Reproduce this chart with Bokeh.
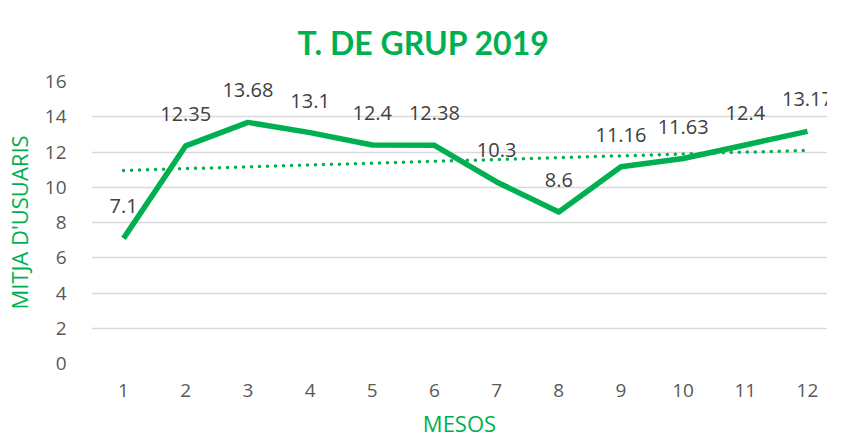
from bokeh.plotting import figure
from bokeh.models import ColumnDataSource, FixedTicker, Range1d, LabelSet, Title
from bokeh.core.properties import value
from bokeh.embed import file_html
from bokeh.resources import INLINE
import numpy as np

months = [1, 2, 3, 4, 5, 6, 7, 8, 9, 10, 11, 12]
values = [7.1, 12.35, 13.68, 13.1, 12.4, 12.38, 10.3, 8.6, 11.16, 11.63, 12.4, 13.17]
labels = ["7.1", "12.35", "13.68", "13.1", "12.4", "12.38", "10.3", "8.6", "11.16", "11.63", "12.4", "13.17"]
y_ticks = [0, 2, 4, 6, 8, 10, 12, 14, 16]
title_text = "T. DE GRUP 2019"

GREEN = "#00B050"

# linear trendline (least squares, as Excel does)
slope, intercept = np.polyfit(months, values, 1)
trend = [slope * m + intercept for m in months]

src = ColumnDataSource(dict(x=months, y=values, lab=labels, trend=trend))

p = figure(width=827, height=440, output_backend="svg", toolbar_location=None,
           x_range=Range1d(0.4846, 12.322), y_range=Range1d(0, 16),
           min_border_left=83, min_border_right=0, min_border_top=70, min_border_bottom=73)
p.outline_line_color = None
p.background_fill_color = "white"

p.title = Title(text=title_text, align="left", offset=206,
                text_font="Lato", text_font_size="32px", text_font_style="bold",
                text_color=GREEN, standoff=40)

p.xgrid.grid_line_color = None
p.ygrid.grid_line_color = "#d9d9d9"
p.ygrid.grid_line_width = 1.5

p.yaxis.ticker = FixedTicker(ticks=y_ticks)
p.xaxis.ticker = FixedTicker(ticks=months)
for ax in (p.xaxis, p.yaxis):
    ax.axis_line_color = None
    ax.major_tick_line_color = None
    ax.minor_tick_line_color = None
    ax.major_label_text_font = "Open Sans"
    ax.major_label_text_font_size = "19px"
    ax.major_label_text_color = "#595959"
    ax.axis_label_text_font = "Open Sans"
    ax.axis_label_text_font_size = "22px"
    ax.axis_label_text_font_style = "normal"
    ax.axis_label_text_color = GREEN
p.yaxis.major_label_standoff = 19
p.xaxis.major_label_standoff = 14
p.yaxis.axis_label = "MITJA D'USUARIS"
p.xaxis.axis_label = "MESOS"
p.yaxis.axis_label_standoff = 8
p.xaxis.axis_label_standoff = 8

p.line("x", "trend", source=src, line_color=GREEN, line_width=3.5, line_dash="0 8", line_cap="round")
p.line("x", "y", source=src, line_color=GREEN, line_width=5.5, line_join="round")

lbls = LabelSet(x="x", y="y", text="lab", source=src, text_align="center",
                text_baseline="middle", y_offset=32, text_font=value("Open Sans"),
                text_font_size="20px", text_color="#404040")
p.add_layout(lbls)

open("out.html", "w").write(file_html(p, INLINE))
